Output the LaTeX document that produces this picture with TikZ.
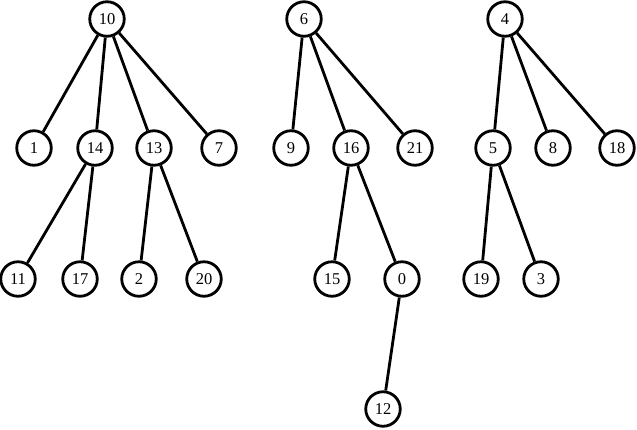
\documentclass[tikz,border=0pt]{standalone}
\usepackage{fontspec}
\setmainfont{Liberation Serif}
\begin{document}
\begin{tikzpicture}[x=1pt,y=-1pt,
  vnode/.style={circle,draw=black,line width=2.8pt,fill=white,minimum size=34.5pt,inner sep=0pt,font=\fontsize{16.5}{16.5}\selectfont},
  edge/.style={line width=2.8pt}]
\useasboundingbox (0,0) rectangle (637,429);
% tree 1
\node[vnode] (n10) at (107,19) {10};
\node[vnode] (n1) at (34,148) {1};
\node[vnode] (n14) at (95,148) {14};
\node[vnode] (n13) at (154,148) {13};
\node[vnode] (n7) at (219,148) {7};
\node[vnode] (n11) at (18,279) {11};
\node[vnode] (n17) at (80,279) {17};
\node[vnode] (n2) at (139,279) {2};
\node[vnode] (n20) at (204,279) {20};
% tree 2
\node[vnode] (n6) at (304,19) {6};
\node[vnode] (n9) at (291,148) {9};
\node[vnode] (n16) at (351,148) {16};
\node[vnode] (n21) at (415,148) {21};
\node[vnode] (n15) at (332,279) {15};
\node[vnode] (n0) at (402,279) {0};
\node[vnode] (n12) at (383,409) {12};
% tree 3
\node[vnode] (n4) at (505,19) {4};
\node[vnode] (n5) at (493,148) {5};
\node[vnode] (n8) at (553,148) {8};
\node[vnode] (n18) at (617,148) {18};
\node[vnode] (n19) at (481,279) {19};
\node[vnode] (n3) at (541,279) {3};
% edges
\draw[edge] (n10) -- (n1);
\draw[edge] (n10) -- (n14);
\draw[edge] (n10) -- (n13);
\draw[edge] (n10) -- (n7);
\draw[edge] (n14) -- (n11);
\draw[edge] (n14) -- (n17);
\draw[edge] (n13) -- (n2);
\draw[edge] (n13) -- (n20);
\draw[edge] (n6) -- (n9);
\draw[edge] (n6) -- (n16);
\draw[edge] (n6) -- (n21);
\draw[edge] (n16) -- (n15);
\draw[edge] (n16) -- (n0);
\draw[edge] (n0) -- (n12);
\draw[edge] (n4) -- (n5);
\draw[edge] (n4) -- (n8);
\draw[edge] (n4) -- (n18);
\draw[edge] (n5) -- (n19);
\draw[edge] (n5) -- (n3);
\end{tikzpicture}
\end{document}
